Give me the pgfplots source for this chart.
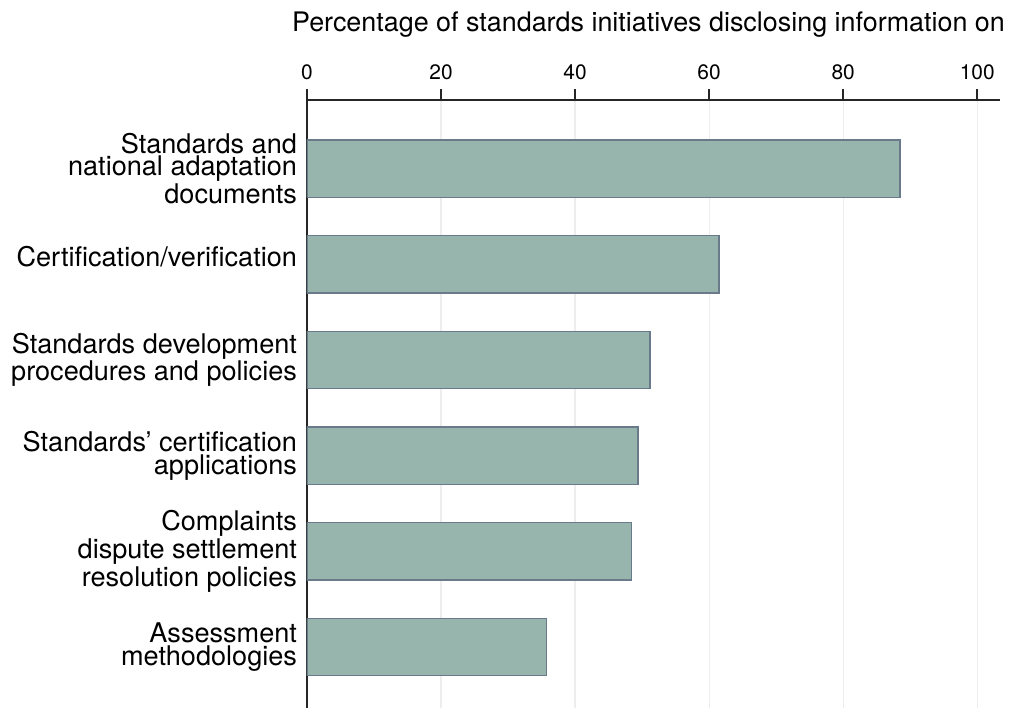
\documentclass[border=0pt]{standalone}
\usepackage{fontspec}
\setmainfont{TeX Gyre Heros}
\usepackage{pgfplots}
\pgfplotsset{compat=1.18}

\definecolor{barfill}{RGB}{152,181,173}
\definecolor{baredge}{RGB}{105,122,138}

\begin{document}
\begin{tikzpicture}
\begin{axis}[
	at={(0,0)}, anchor=north west,
	scale only axis,
	width=346.5bp, height=304bp,
	xmin=0, xmax=103.4,
	ymin=0.284, ymax=6.637,
	y dir=reverse,
	axis x line*=top,
	axis y line*=left,
	axis line style={black!85, line width=0.8pt, -},
	xtick={0,20,...,100},
	tick align=outside,
	major tick length=5.5bp,
	xtick style={black!85, line width=0.8pt},
	ytick={1,...,6},
	ytick style={draw=none},
	yticklabels={
		{Standards and\\national adaptation\\documents},
		{\raisebox{8bp}{Certification/verification}},
		{Standards development\\procedures and policies},
		{Standards' certification\\applications},
		{Complaints\\dispute settlement\\resolution policies},
		{Assessment\\methodologies}},
	yticklabel style={align=right, font=\fontsize{13.6}{11.3}\selectfont, xshift=4bp},
	xticklabel style={font=\fontsize{10.5}{12}\selectfont, yshift=1bp},
	/pgf/number format/assume math mode=true,
	xmajorgrids,
	grid style={black!7, line width=0.6pt},
	xlabel={Percentage of standards initiatives disclosing information on},
	xlabel style={font=\fontsize{13.5}{15}\selectfont, yshift=7bp, xshift=-2.5bp},
]
	\addplot[xbar, bar width=0.6, fill=barfill, draw=baredge, line width=0.7pt]
		coordinates {(88.5,1) (61.5,2) (51.2,3) (49.4,4) (48.4,5) (35.7,6)};
\end{axis}
\pgfresetboundingbox
\path (-153.5bp,50bp) rectangle (352.5bp,-304bp);
\end{tikzpicture}
\end{document}
